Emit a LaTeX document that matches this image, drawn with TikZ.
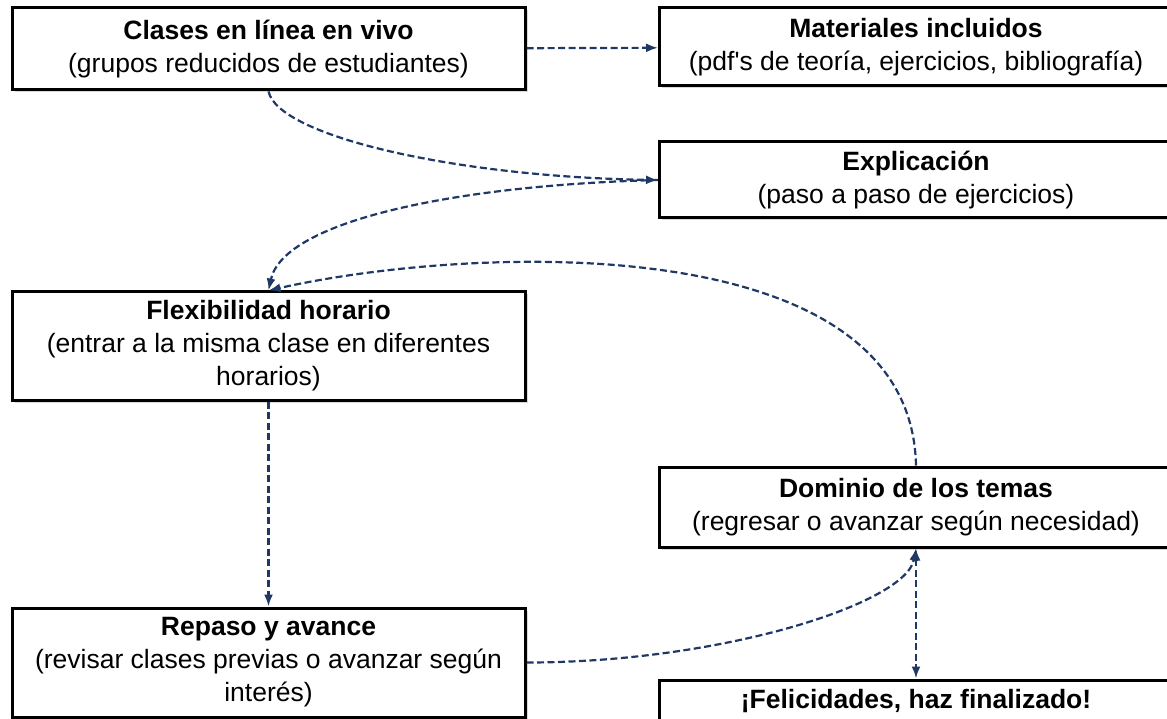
\documentclass[tikz,border=0pt]{standalone}
\usepackage{fontspec}
\setmainfont{Liberation Sans}
\usepackage{tikz}
\usetikzlibrary{arrows.meta, shadows}
\definecolor{azul}{RGB}{32,56,100}
\tikzset{%
	>={Latex[length=12pt, width=9pt]},
	every edge/.append style={flecha},
	flecha/.style = {draw = azul, line width = 2.2pt, dash pattern = on 7pt off 3.5pt},
	caja/.style = {name = #1, draw, line width = 3pt, fill = white, minimum width = 513pt, align = center, inner sep = 0pt, font = \fontsize{26.5}{33}\selectfont, drop shadow = {shadow xshift = 2.5pt, shadow yshift = -2.5pt, opacity = 0.3}}
}

\begin{document}
\begin{tikzpicture}[x=1pt, y=-1pt]
	\useasboundingbox (0,0) rectangle (1167,719);
	\clip (0,0) rectangle (1167,719);
	\node [caja = {clases}, minimum height = 82pt] at (268.5,49) {\textbf{Clases en línea en vivo}\\(grupos reducidos de estudiantes)};
	\node [caja = {mat}, minimum height = 78pt] at (916,47) {\textbf{Materiales incluidos}\\(pdf\textquotesingle s de teoría, ejercicios, bibliografía)};
	\node [caja = {expl}, minimum height = 76pt] at (916,180) {\textbf{Explicación}\\(paso a paso de ejercicios)};
	\node [caja = {flex}, minimum height = 108pt] at (268.5,346) {\textbf{Flexibilidad horario}\\(entrar a la misma clase en diferentes\\horarios)};
	\node [caja = {dom}, minimum height = 80pt] at (916,507) {\textbf{Dominio de los temas}\\(regresar o avanzar según necesidad)};
	\node [caja = {feli}, minimum height = 80pt] at (916,720) {\textbf{¡Felicidades, haz finalizado!}\\\strut};
	\node [caja = {repaso}, minimum height = 109pt] at (268.5,662.5) {\textbf{Repaso y avance}\\(revisar clases previas o avanzar según\\interés)};
	\path [->] (clases) edge (mat);
	\draw [flecha, ->] (clases.south) .. controls +(10,45) and +(-200,-3) .. (expl.west);
	\draw [flecha, ->] (expl.west) .. controls +(-200,5) and +(15,-70) .. (flex.north);
	\draw [flecha, ->] (dom.north) .. controls +(-5,-240) and +(200,-45) .. (flex.north);
	\path [->] (flex) edge (repaso);
	\draw [flecha, ->] (repaso.east) .. controls +(195,0) and +(-10,55) .. (dom.south);
	\path [<->] (dom) edge (feli);
\end{tikzpicture}
\end{document}
